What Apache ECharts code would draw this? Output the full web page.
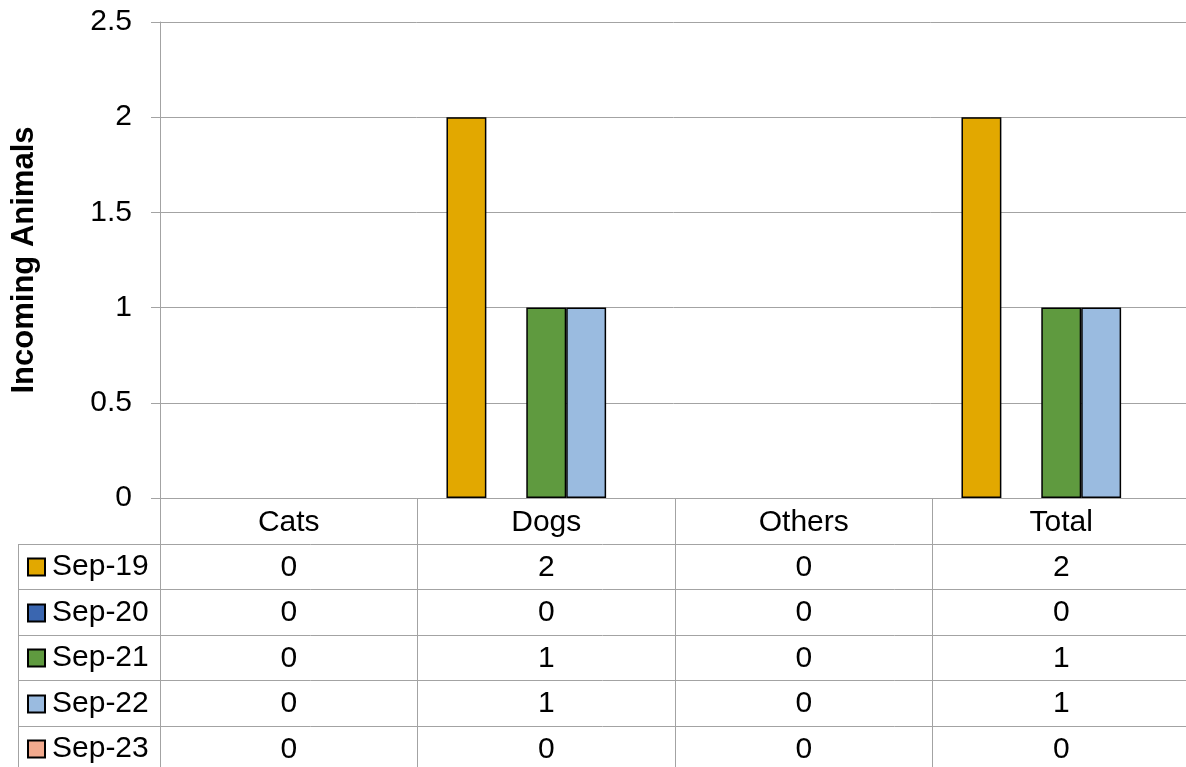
<!doctype html>
<html lang="en">
<head>
    <meta charset="UTF-8">
    <title>Incoming Animals</title>
    <script src="https://cdn.jsdelivr.net/npm/echarts@6/dist/echarts.min.js"></script>
    <style>
        html, body { margin: 0; padding: 0; background: #fff; }
    </style>
</head>
<body>

<div id="chart" style="width: 1186px;height: 767px;"></div>
<script type="text/javascript">
    // chart data
    let categories = ['Cats', 'Dogs', 'Others', 'Total'];
    let seriesNames = ['Sep-19', 'Sep-20', 'Sep-21', 'Sep-22', 'Sep-23'];
    let sep19 = [0, 2, 0, 2];
    let sep20 = [0, 0, 0, 0];
    let sep21 = [0, 1, 0, 1];
    let sep22 = [0, 1, 0, 1];
    let sep23 = [0, 0, 0, 0];
    let seriesValues = [sep19, sep20, sep21, sep22, sep23];
    let colors = ['#e2a800', '#3a66b0', '#5f9a3f', '#9abbe0', '#f2aa8e'];

    // layout
    let gridLeft = 160, gridTop = 22, gridWidth = 1030, gridHeight = 476;
    let gridBottomY = gridTop + gridHeight;
    let rowH = 45.5;
    let lineColor = '#a3a3a3';
    let font = 'Liberation Sans, Arial, sans-serif';
    let fontSize = 30;

    let xAxes = [{
        type: 'category',
        data: categories,
        position: 'bottom',
        axisLine: {lineStyle: {color: lineColor, width: 1}},
        axisTick: {show: true, length: 280, lineStyle: {color: lineColor, width: 1}},
        axisLabel: {interval: 0, margin: 11, color: '#000', fontSize: fontSize, fontFamily: font, lineHeight: 28}
    }];
    for (let i = 0; i < seriesValues.length; i++) {
        let vals = seriesValues[i];
        xAxes.push({
            type: 'category',
            data: categories,
            position: 'bottom',
            offset: (i + 1) * rowH,
            axisLine: {show: false},
            axisTick: {show: false},
            axisLabel: {
                interval: 0, margin: 10, color: '#000', fontSize: fontSize, fontFamily: font, lineHeight: 28,
                formatter: function (v, idx) { return String(vals[idx]); }
            }
        });
    }

    let series = [];
    for (let i = 0; i < seriesNames.length; i++) {
        series.push({
            name: seriesNames[i],
            type: 'bar',
            xAxisIndex: 0,
            barGap: '0%',
            barCategoryGap: '22.5%',
            itemStyle: {color: colors[i], borderColor: '#000', borderWidth: 1.5},
            // zero bars are not drawn in the original
            data: seriesValues[i].map(function (v) { return v === 0 ? '-' : v; })
        });
    }

    // one legend per table row, so each key sits in its own row
    let legends = seriesNames.map(function (name, i) {
        return {
            orient: 'vertical',
            left: 27,
            top: Math.round(gridBottomY + (i + 1) * rowH + rowH / 2 - 14),
            padding: 0,
            itemWidth: 17,
            itemHeight: 17,
            icon: 'rect',
            selectedMode: false,
            textStyle: {color: '#000', fontSize: fontSize, fontFamily: font, padding: [0, 0, 0, 2]},
            data: [name]
        };
    });

    // table border lines
    let graphics = [];
    for (let k = 1; k <= seriesNames.length; k++) {
        let y = Math.round(gridBottomY + k * rowH) + 0.5;
        graphics.push({
            type: 'line', silent: true,
            shape: {x1: 18, y1: y, x2: 1200, y2: y},
            style: {stroke: lineColor, lineWidth: 1}
        });
    }
    graphics.push({
        type: 'line', silent: true,
        shape: {x1: 18.5, y1: Math.round(gridBottomY + rowH), x2: 18.5, y2: 767},
        style: {stroke: lineColor, lineWidth: 1}
    });

    let newChart = echarts.init(document.getElementById("chart"));
    newChart.setOption({
        animation: false,
        color: colors,
        grid: {
            left: gridLeft, top: gridTop, width: gridWidth, height: gridHeight,
            containLabel: false, outerBoundsMode: 'none'
        },
        legend: legends,
        xAxis: xAxes,
        yAxis: {
            type: 'value',
            min: 0,
            max: 2.5,
            interval: 0.5,
            name: 'Incoming Animals',
            nameLocation: 'middle',
            nameGap: 120,
            nameTextStyle: {color: '#000', fontSize: 31, fontWeight: 'bold', fontFamily: font},
            axisLine: {show: true, lineStyle: {color: lineColor, width: 1}},
            axisTick: {show: true, length: 9, lineStyle: {color: lineColor, width: 1}},
            axisLabel: {margin: 28, color: '#000', fontSize: fontSize, fontFamily: font},
            splitLine: {lineStyle: {color: lineColor, width: 1}}
        },
        graphic: graphics,
        series: series
    });
</script>
</body>
</html>
